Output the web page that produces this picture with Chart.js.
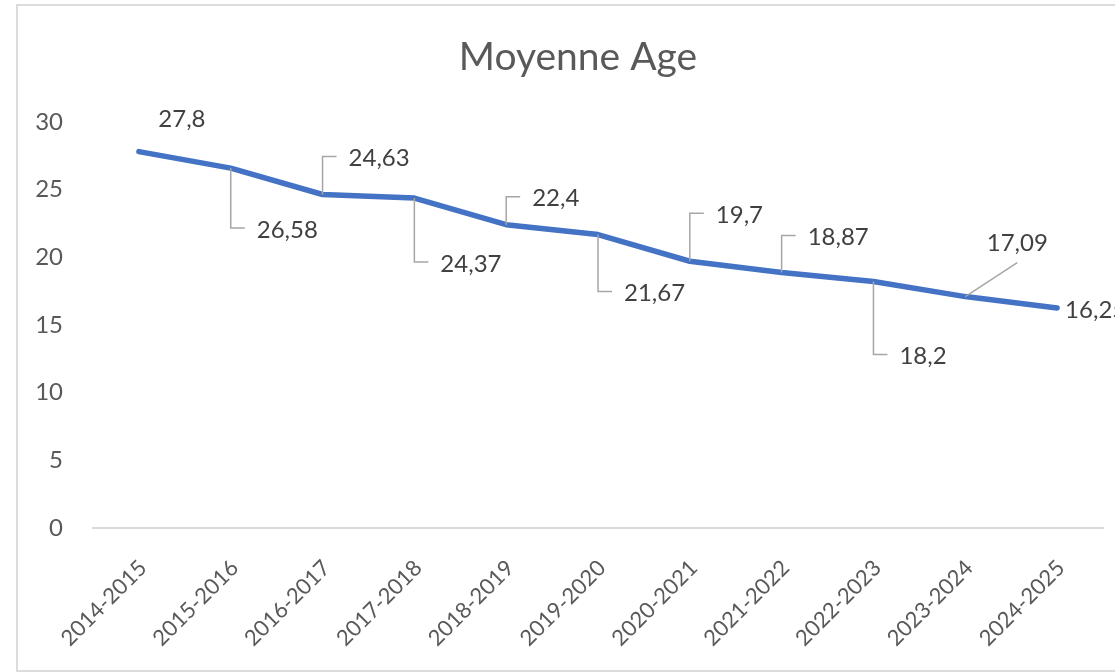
<!DOCTYPE html>
<html>
<head>
<meta charset="utf-8">
<script src="https://cdn.jsdelivr.net/npm/chart.js@4/dist/chart.umd.min.js"></script>
<style>
  html, body { margin: 0; padding: 0; background: #fff; overflow: hidden; }
  #frame {
    position: absolute; left: 16px; top: 4px;
    width: 1200px; height: 664px;
    border: 2px solid #dcdcdc; background: #fff;
  }
  #chart { position: absolute; left: 0; top: 0; }
</style>
</head>
<body>
<div id="frame"><canvas id="chart" width="1120" height="664"></canvas></div>
<script>
// Données du graphique
const seasons = ["2014-2015", "2015-2016", "2016-2017", "2017-2018", "2018-2019", "2019-2020",
  "2020-2021", "2021-2022", "2022-2023", "2023-2024", "2024-2025"];
const ages = [27.8, 26.58, 24.63, 24.37, 22.4, 21.67, 19.7, 18.87, 18.2, 17.09, 16.25];
const yTicks = [0, 5, 10, 15, 20, 25, 30];

const FONT = "Lato, 'Open Sans', sans-serif";

// Placement des étiquettes (style Excel, avec lignes de repère)
const labelPlacement = [
  { dx: 43, dy: -32, align: "center" },
  { down: 60 },
  { up: 38 },
  { down: 64 },
  { up: 28 },
  { down: 57 },
  { up: 48 },
  { up: 37 },
  { down: 73 },
  { diag: [52, -34] },
  { dx: 8, dy: 2, align: "left" },
];

const valueLabels = {
  id: "valueLabels",
  afterDatasetsDraw(chart, args, opts) {
    const ctx = chart.ctx;
    const meta = chart.getDatasetMeta(0);
    ctx.save();
    ctx.font = opts.font;
    ctx.textBaseline = "middle";
    meta.data.forEach((pt, i) => {
      const p = opts.placement[i];
      const text = String(ages[i]).replace(".", ",");
      const x = pt.x, y = pt.y;
      ctx.strokeStyle = opts.leaderColor;
      ctx.lineWidth = 1.5;
      ctx.fillStyle = opts.color;
      if (p.down !== undefined || p.up !== undefined) {
        const d = p.down !== undefined ? p.down : -p.up;
        ctx.beginPath();
        ctx.moveTo(x, y);
        ctx.lineTo(x, y + d);
        ctx.lineTo(x + 14, y + d);
        ctx.stroke();
        ctx.textAlign = "left";
        ctx.fillText(text, x + 26, y + d + 2);
      } else if (p.diag) {
        ctx.beginPath();
        ctx.moveTo(x, y);
        ctx.lineTo(x + p.diag[0], y + p.diag[1]);
        ctx.stroke();
        ctx.textAlign = "center";
        ctx.fillText(text, x + p.diag[0], y + p.diag[1] - 19);
      } else {
        ctx.textAlign = p.align;
        ctx.fillText(text, x + p.dx, y + p.dy);
      }
    });
    ctx.restore();
  },
};

new Chart(document.getElementById("chart"), {
  type: "line",
  data: {
    labels: seasons,
    datasets: [{
      label: "Moyenne Age",
      data: ages,
      borderColor: "#4472C4",
      borderWidth: 5.5,
      borderCapStyle: "round",
      borderJoinStyle: "round",
      pointRadius: 0,
      tension: 0,
      fill: false,
    }],
  },
  options: {
    responsive: false,
    animation: false,
    layout: { padding: 0 },
    plugins: {
      legend: { display: false },
      tooltip: { enabled: false },
      title: {
        display: true,
        text: "Moyenne Age",
        color: "#595959",
        font: { family: FONT, size: 39, weight: "normal" },
        padding: { top: 28, bottom: 41 },
      },
      valueLabels: {
        placement: labelPlacement,
        font: "24px " + FONT,
        color: "#404040",
        leaderColor: "#a6a6a6",
      },
    },
    scales: {
      x: {
        offset: true,
        grid: { display: false, drawTicks: false },
        border: { display: true, color: "#d9d9d9", width: 2 },
        ticks: {
          color: "#595959",
          font: { family: FONT, size: 22 },
          minRotation: 45,
          maxRotation: 45,
          padding: 27,
          labelOffset: 4,
          autoSkip: false,
        },
        afterFit(scale) { scale.height = 142; },
      },
      y: {
        min: 0,
        max: 30,
        afterBuildTicks(scale) { scale.ticks = yTicks.map(v => ({ value: v })); },
        grid: { display: false, drawTicks: false },
        border: { display: false },
        ticks: {
          color: "#595959",
          font: { family: FONT, size: 24 },
          padding: 30,
        },
        afterFit(scale) { scale.width = 75; },
      },
      // axe vide à droite : garde la marge du cadre Excel
      yRight: {
        position: "right",
        min: 0,
        max: 30,
        grid: { display: false, drawTicks: false },
        border: { display: false },
        ticks: { display: false },
        afterFit(scale) { scale.width = 35; },
      },
    },
  },
  plugins: [valueLabels],
});
</script>
</body>
</html>
